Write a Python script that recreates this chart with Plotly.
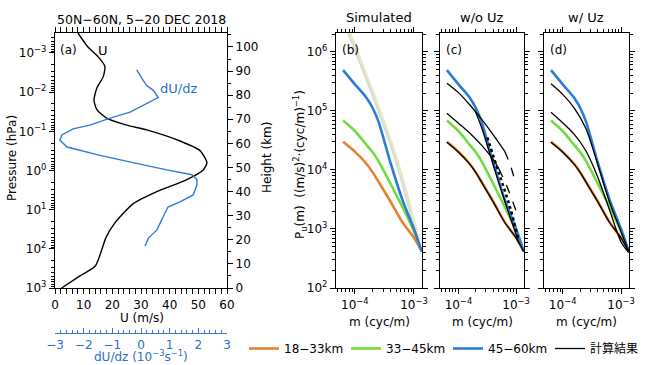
import plotly.graph_objects as go

W, H = 648, 365
FONT = "DejaVu Sans, Noto Sans CJK JP, sans-serif"
BLUE_TXT = "#2a6fc9"
C_OR = "#e8812e"
C_GR = "#72dc3c"
C_BL = "#2c7bd6"

# ---------------- Panel (a) data ----------------
height_U = [0, 5, 9, 13.7, 21, 27, 35, 40, 45, 49, 52, 57, 61, 65.6, 67.6, 70.5,
            74, 78, 83, 87.6, 92, 96, 100, 105.8]
U_vals = [2.3, 8.7, 14, 15.7, 17.8, 20.9, 27.3, 35.5, 46, 51.7, 53, 50.6, 43.6, 32,
          25, 18, 14.6, 13.6, 14.6, 16.8, 17.4, 15, 11.5, 8]
height_dUdz = [17.4, 20.7, 24, 29.5, 33.6, 35.7, 38.6, 42.7, 45, 47, 49, 52, 55, 58.5,
               61.4, 63.5, 66, 67.6, 70.5, 73, 76.8, 79, 82, 84, 87, 90.5]
dUdz_vals = [0.14, 0.26, 0.55, 0.77, 0.94, 1.36, 1.82, 1.95, 1.95, 1.78, 0.9, -0.28,
             -1.43, -2.58, -2.83, -2.76, -2.37, -1.78, -1.08, -0.38, 0.21, 0.6, 0.43,
             0.2, 0.03, -0.15]
pressure_ticks = [1e-3, 1e-2, 1e-1, 1e0, 1e1, 1e2, 1e3]
pressure_ticktext = ["10<sup>\u22123</sup>", "10<sup>\u22122</sup>", "10<sup>\u22121</sup>",
                     "10<sup>0</sup>", "10<sup>1</sup>", "10<sup>2</sup>", "10<sup>3</sup>"]

# ---------------- Spectra data ----------------
m_grid = [6.31e-5, 1.0e-4, 1.58e-4, 2.0e-4, 2.51e-4, 3.98e-4, 6.31e-4, 1.0e-3, 1.35e-3]
P_18_33 = [3.0e4, 2.04e4, 1.26e4, 9.1e3, 6.3e3, 2.95e3, 1.32e3, 710, 417]
P_33_45 = [6.9e4, 4.57e4, 2.63e4, 2.0e4, 1.41e4, 5.9e3, 2.4e3, 912, 417]
P_45_60 = [4.9e5, 2.82e5, 1.66e5, 1.12e5, 6.6e4, 1.35e4, 3.2e3, 1.0e3, 417]

m_ticks = [1e-4, 1e-3]
m_ticktext = ["10<sup>\u22124</sup>", "10<sup>\u22123</sup>"]
P_ticks = [1e2, 1e3, 1e4, 1e5, 1e6]
P_ticktext = ["10<sup>2</sup>", "10<sup>3</sup>", "10<sup>4</sup>", "10<sup>5</sup>",
              "10<sup>6</sup>"]

# faint saturation lines (panel b)
m_sat_gray = [7.08e-5, 4.37e-4, 1.17e-3]
P_sat_gray = [2.5e6, 2.0e4, 560]
m_sat_green = [7.4e-5, 4.57e-4, 1.2e-3]
P_sat_green = [2.5e6, 2.0e4, 600]
m_sat_orange = [7.8e-5, 4.8e-4, 1.23e-3]
P_sat_orange = [2.5e6, 2.0e4, 650]

# computed results, w/o Uz (panel c)
m_c_top = [6.31e-5, 1.0e-4, 1.58e-4, 2.51e-4, 3.98e-4, 6.31e-4]
P_c_top = [2.95e5, 2.04e5, 1.26e5, 7.24e4, 3.98e4, 2.09e4]
m_c_top_d = [6.31e-4, 7.94e-4, 1.0e-3]
P_c_top_d = [2.09e4, 1.2e4, 5.6e3]
m_c_mid = [6.31e-5, 1.0e-4, 1.58e-4, 2.51e-4, 3.98e-4, 5.01e-4]
P_c_mid = [9.1e4, 6.2e4, 4.2e4, 2.63e4, 1.51e4, 1.05e4]
m_c_mid_d = [5.01e-4, 7.08e-4, 1.0e-3]
P_c_mid_d = [1.05e4, 5.0e3, 2.0e3]
m_c_steep = [1.91e-4, 2.51e-4, 3.98e-4, 6.31e-4, 1.0e-3, 1.12e-3]
P_c_steep = [1.05e5, 5.3e4, 1.25e4, 3.0e3, 794, 575]
m_c_hatch = [3.16e-4, 5.01e-4, 7.94e-4, 1.07e-3]
P_c_hatch = [3.55e4, 8.9e3, 2.24e3, 708]
P_c_low = [2.95e4, 2.0e4, 1.24e4, 9.0e3, 6.2e3, 2.9e3, 1.3e3, 700, 417]

# computed results, w/ Uz (panel d)
m_d = [6.31e-5, 1.0e-4, 1.58e-4, 2.51e-4, 3.98e-4, 6.31e-4, 1.0e-3, 1.35e-3]
P_d_top = [2.88e5, 1.91e5, 1.12e5, 5.0e4, 1.25e4, 2.9e3, 891, 417]
P_d_mid = [9.5e4, 6.3e4, 4.0e4, 2.09e4, 7.6e3, 2.14e3, 603, 398]
P_d_low = [2.95e4, 2.0e4, 1.24e4, 9.0e3, 6.2e3, 2.9e3, 1.3e3, 700, 417]

legend_names = ["18\u221233km", "33\u221245km", "45\u221260km", "計算結果"]


def fx(px):
    return px / W


def fy(py):
    return 1 - py / H


fig = go.Figure()

# ---- panel (a)
fig.add_trace(go.Scatter(x=[30], y=[1.0], xaxis="x", yaxis="y", mode="markers",
                         marker=dict(opacity=0), showlegend=False, hoverinfo="skip"))
fig.add_trace(go.Scatter(x=U_vals, y=height_U, xaxis="x", yaxis="y2", mode="lines",
                         line=dict(color="black", width=1.4, shape="spline", smoothing=0.6),
                         showlegend=False))
fig.add_trace(go.Scatter(x=dUdz_vals, y=height_dUdz, xaxis="x2", yaxis="y2", mode="lines",
                         line=dict(color=C_BL, width=1.4), showlegend=False))

# ---- panel (b) faint lines
for m, P, col in [(m_sat_gray, P_sat_gray, "rgba(175,185,205,0.6)"),
                  (m_sat_green, P_sat_green, "rgba(200,240,160,0.75)"),
                  (m_sat_orange, P_sat_orange, "rgba(245,205,170,0.65)")]:
    fig.add_trace(go.Scatter(x=m, y=P, xaxis="x3", yaxis="y3", mode="lines",
                             line=dict(color=col, width=1.5, shape="spline"),
                             showlegend=False))

series = [(P_18_33, C_OR, legend_names[0]), (P_33_45, C_GR, legend_names[1]),
          (P_45_60, C_BL, legend_names[2])]
for ax_i in (3, 4, 5):
    for P, col, name in series:
        fig.add_trace(go.Scatter(x=m_grid, y=P, xaxis=f"x{ax_i}", yaxis=f"y{ax_i}",
                                 mode="lines",
                                 line=dict(color=col, width=2.6, shape="spline", smoothing=0.8),
                                 name=name, showlegend=(ax_i == 3)))

# ---- panel (c) black
blk = dict(color="black", width=1.3, shape="spline", smoothing=0.8)
blk_d = dict(color="black", width=1.3, dash="dash", shape="spline", smoothing=0.8)
fig.add_trace(go.Scatter(x=m_c_top, y=P_c_top, xaxis="x4", yaxis="y4", mode="lines",
                         line=blk, name=legend_names[3], showlegend=True))
fig.add_trace(go.Scatter(x=m_c_top_d, y=P_c_top_d, xaxis="x4", yaxis="y4", mode="lines",
                         line=blk_d, showlegend=False))
fig.add_trace(go.Scatter(x=m_c_mid, y=P_c_mid, xaxis="x4", yaxis="y4", mode="lines",
                         line=blk, showlegend=False))
fig.add_trace(go.Scatter(x=m_c_mid_d, y=P_c_mid_d, xaxis="x4", yaxis="y4", mode="lines",
                         line=blk_d, showlegend=False))
fig.add_trace(go.Scatter(x=m_c_steep, y=P_c_steep, xaxis="x4", yaxis="y4", mode="lines",
                         line=blk, showlegend=False))
fig.add_trace(go.Scatter(x=m_c_hatch, y=P_c_hatch, xaxis="x4", yaxis="y4", mode="lines",
                         line=dict(color="black", width=2.5, dash="dot", shape="spline"),
                         showlegend=False))
fig.add_trace(go.Scatter(x=m_grid, y=P_c_low, xaxis="x4", yaxis="y4", mode="lines",
                         line=blk, showlegend=False))

# ---- panel (d) black
for P in (P_d_top, P_d_mid):
    fig.add_trace(go.Scatter(x=m_d, y=P, xaxis="x5", yaxis="y5", mode="lines",
                             line=blk, showlegend=False))
fig.add_trace(go.Scatter(x=m_grid, y=P_d_low, xaxis="x5", yaxis="y5", mode="lines",
                         line=blk, showlegend=False))

# ---------------- axes ----------------
tickfont = dict(family=FONT, size=12, color="black")
base = dict(showline=True, linecolor="black", linewidth=1.3, ticks="outside", ticklen=5,
            tickwidth=1, tickcolor="black", showgrid=False, zeroline=False, tickfont=tickfont)

log_minor_p = [k * 10 ** e for e in range(-4, 4) for k in range(2, 10)]
log_minor_m = [k * 10 ** e for e in range(-5, -1) for k in range(2, 10)]
log_minor_P = [k * 10 ** e for e in range(1, 7) for k in range(2, 10)]

yd = [fy(288), fy(33)]

fig.update_layout(
    xaxis=dict(base, domain=[fx(55), fx(227)], range=[0, 60], dtick=10, anchor="y",
               mirror="allticks", minor=dict(dtick=2, ticks="outside", ticklen=3,
                                             tickcolor="black", showgrid=False)),
    xaxis2=dict(base, domain=[fx(55), fx(227)], range=[-3, 3], dtick=1, overlaying="x",
                anchor="free", position=fy(333), linecolor=C_BL, tickcolor=C_BL,
                ticks="inside", tickfont=dict(family=FONT, size=12, color=BLUE_TXT),
                minor=dict(dtick=0.2, ticks="inside", ticklen=3, tickcolor=C_BL,
                           showgrid=False)),
    yaxis=dict(base, domain=yd, type="log", range=[3, -3.51], tickvals=pressure_ticks,
               ticktext=pressure_ticktext, anchor="x",
               minor=dict(tickvals=log_minor_p, ticks="outside", ticklen=3,
                          tickcolor="black", showgrid=False)),
    yaxis2=dict(base, range=[0, 105.8], dtick=10, overlaying="y", side="right", anchor="x",
                minor=dict(dtick=5, ticks="outside", ticklen=3, tickcolor="black",
                           showgrid=False)),
)

panel_x = {3: (336, 422), 4: (440, 524), 5: (544, 629)}
for i, (l, r) in panel_x.items():
    fig.update_layout(**{
        f"xaxis{i}": dict(base, domain=[fx(l), fx(r)], type="log", range=[-4.32, -2.864],
                          tickvals=m_ticks, ticktext=m_ticktext, anchor=f"y{i}",
                          mirror="allticks",
                          minor=dict(tickvals=log_minor_m, ticks="outside", ticklen=3,
                                     tickcolor="black", showgrid=False)),
        f"yaxis{i}": dict(base, domain=yd, type="log", range=[2, 6.32], tickvals=P_ticks,
                          ticktext=P_ticktext, anchor=f"x{i}", mirror="allticks",
                          showticklabels=(i == 3),
                          minor=dict(tickvals=log_minor_P, ticks="outside", ticklen=3,
                                     tickcolor="black", showgrid=False)),
    })

# ---------------- annotations ----------------
def ann(text, x, y, size=12, color="black", angle=0, xanchor="center", yanchor="middle"):
    return dict(text=text, x=fx(x), y=fy(y), xref="paper", yref="paper", showarrow=False,
                font=dict(family=FONT, size=size, color=color), textangle=angle,
                xanchor=xanchor, yanchor=yanchor)


annotations = [
    ann("50N\u221260N, 5\u221220 DEC 2018", 141, 19, size=12.5),
    ann("(a)", 58, 50, xanchor="left"),
    ann("U", 103, 50, size=13),
    ann("dU/dz", 178, 88, size=13, color=BLUE_TXT),
    ann("Pressure (hPa)", 12, 158, angle=-90),
    ann("Height (km)", 267, 158, angle=-90),
    ann("U (m/s)", 142, 318),
    ann("dU/dz (10<sup>\u22123</sup>s<sup>\u22121</sup>)", 141, 356, color=BLUE_TXT),
    ann("P<sub>u</sub>(m)  ((m/s)<sup>2</sup>\u00b7(cyc/m)<sup>\u22121</sup>)", 300, 165,
        angle=-90),
    ann("Simulated", 379, 17, size=13),
    ann("w/o Uz", 482, 17, size=13),
    ann("w/ Uz", 586, 17, size=13),
    ann("(b)", 340, 50, xanchor="left"),
    ann("(c)", 444, 50, xanchor="left"),
    ann("(d)", 548, 50, xanchor="left"),
]
for cx in (379, 482, 586):
    annotations.append(ann("m (cyc/m)", cx, 322))

fig.update_layout(
    width=W, height=H, margin=dict(l=0, r=0, t=0, b=0, autoexpand=False),
    paper_bgcolor="white", plot_bgcolor="white",
    font=dict(family=FONT, size=12, color="black"),
    annotations=annotations,
    showlegend=True,
    legend=dict(orientation="h", x=fx(244), y=fy(334), xanchor="left", yanchor="top",
                font=dict(family=FONT, size=12), bgcolor="rgba(0,0,0,0)",
                itemwidth=30, tracegroupgap=0, traceorder="normal",
                entrywidth=57, entrywidthmode="pixels"),
)

fig.write_html("out.html", config={"displayModeBar": False},
               post_script="document.body.style.margin='0';"
                           "document.body.style.overflow='hidden';")
